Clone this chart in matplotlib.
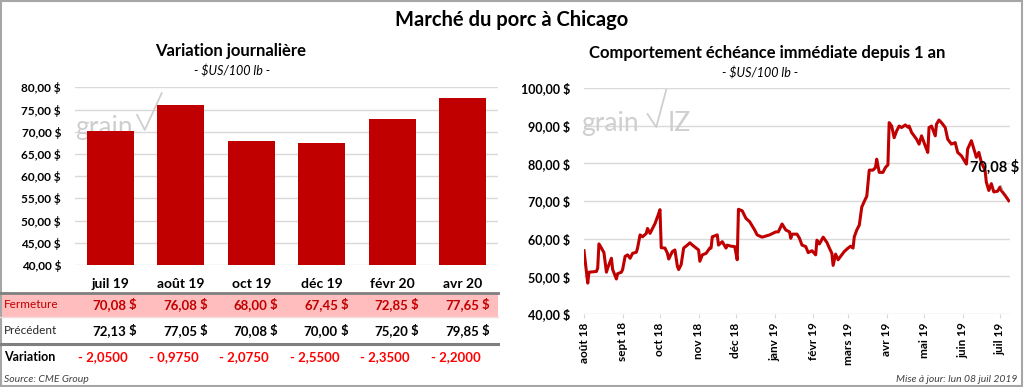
import matplotlib
matplotlib.use("Agg")
import matplotlib.pyplot as plt
import matplotlib.transforms as mtransforms
from matplotlib.patches import Rectangle
from matplotlib.lines import Line2D
import numpy as np
import pandas as pd

plt.rcParams['font.family'] = ['Lato', 'DejaVu Sans']

# ---------------- data ----------------
contracts = ["juil 19", "août 19", "oct 19", "déc 19", "févr 20", "avr 20"]
fermeture = [70.08, 76.08, 68.00, 67.45, 72.85, 77.65]
precedent = [72.13, 77.05, 70.08, 70.00, 75.20, 79.85]
variation = [-2.0500, -0.9750, -2.0750, -2.5500, -2.3500, -2.2000]
bar_yticks = [40, 45, 50, 55, 60, 65, 70, 75, 80]

start_date = "2018-08-01"
day_offsets = [0, 3, 4, 10, 11, 12, 14, 16, 18, 19, 22, 23, 26, 27, 30, 31, 33, 35, 37, 39,
               42, 43, 45, 47, 50, 51, 53, 55, 57, 59, 61, 62, 65, 67, 68, 71, 73, 75, 76, 78,
               80, 83, 85, 87, 90, 92, 93, 95, 98, 101, 102, 103, 107, 108, 111, 114, 115, 118, 121, 123,
               124, 127, 130, 133, 137, 139, 143, 149, 154, 156, 159, 162, 165, 166, 167, 171, 173, 175, 178, 180,
               183, 186, 187, 189, 192, 195, 197, 199, 200, 202, 204, 206, 209, 212, 214, 216, 217, 219, 221, 223,
               226, 227, 229, 232, 234, 235, 237, 240, 242, 244, 245, 247, 249, 251, 253, 255, 258, 260, 261, 263,
               267, 269, 271, 274, 276, 277, 279, 282, 283, 285, 287, 290, 292, 295, 298, 300, 303, 307, 308, 311,
               313, 315, 317, 319, 322, 323, 325, 327, 329, 332, 334, 335, 338, 341]
prices = [56.8, 48.2, 51.1, 51.3, 52.2, 58.6, 57.5, 56.3, 51.1, 52.2, 54.8, 51.8, 49.3, 50.7, 51.1, 51.8, 55.3, 55.7, 54.8, 56.1,
          56.4, 57.5, 61.0, 60.5, 61.4, 62.7, 61.4, 62.7, 64.0, 65.8, 67.7, 57.6, 57.5, 56.1, 54.6, 56.6, 57.0, 52.6, 51.8, 53.1,
          57.5, 58.3, 58.9, 58.3, 57.5, 57.0, 54.0, 55.7, 56.1, 57.5, 57.5, 60.5, 61.0, 58.3, 59.2, 57.5, 58.3, 58.0, 57.9, 54.4,
          67.8, 67.4, 65.4, 64.5, 62.3, 61.0, 60.4, 61.0, 61.8, 61.8, 63.9, 62.3, 61.8, 60.1, 61.2, 61.2, 60.1, 58.3, 57.9, 56.3,
          56.8, 55.7, 59.6, 58.6, 60.4, 59.0, 57.5, 56.1, 52.9, 55.9, 54.4, 55.3, 56.6, 57.5, 58.0, 57.5, 60.5, 62.3, 63.6, 68.4,
          70.6, 71.2, 78.2, 78.2, 78.9, 81.1, 77.6, 77.6, 78.9, 79.6, 90.8, 89.9, 86.8, 88.6, 89.9, 89.5, 90.2, 89.6, 89.9, 88.2,
          86.4, 85.1, 87.3, 84.6, 82.9, 89.5, 89.9, 87.3, 90.4, 91.5, 90.8, 89.5, 86.4, 85.1, 85.5, 82.9, 82.0, 79.8, 83.8, 86.0,
          83.8, 81.6, 82.9, 80.3, 78.1, 75.0, 72.8, 74.6, 72.4, 72.6, 73.7, 72.8, 71.5, 70.08]
line_yticks = [40, 50, 60, 70, 80, 90, 100]
month_labels = ["août 18", "sept 18", "oct 18", "nov 18", "déc 18", "janv 19", "févr 19",
                "mars 19", "avr 19", "mai 19", "juin 19", "juil 19"]
month_starts = ["2018-08-01", "2018-09-01", "2018-10-01", "2018-11-01", "2018-12-01", "2019-01-01",
                "2019-02-01", "2019-03-01", "2019-04-01", "2019-05-01", "2019-06-01", "2019-07-01"]

# ---------------- figure ----------------
W, H = 1024, 387
fig = plt.figure(figsize=(W / 100, H / 100), dpi=100)
fig.patch.set_facecolor("white")

def fx(x):
    return x / W

def fy(y):
    return 1 - y / H

RED = "#C00000"
GRID = "#D9D9D9"
WM = "#CFCFCF"

# outer frame
fig.add_artist(Rectangle((0.001, 0.002), 0.997, 0.995, transform=fig.transFigure,
                         fill=False, edgecolor="#A6A6A6", lw=1.5))

fig.text(fx(512), fy(20), "Marché du porc à Chicago", ha="center", va="center",
         fontsize=14.5, fontweight="bold", color="black")

# ---------------- left bar chart ----------------
axL = fig.add_axes([fx(75), fy(265), fx(498) - fx(75), fy(87.3) - fy(265)])
xpos = np.arange(len(contracts))
axL.set_xlim(-0.5, len(contracts) - 0.5)
axL.set_ylim(40, 80)
axL.set_yticks(bar_yticks)
axL.set_yticklabels([f"{v:.2f} $".replace(".", ",") for v in bar_yticks])
axL.grid(axis="y", color=GRID, lw=1)
axL.set_axisbelow(True)
for s in axL.spines.values():
    s.set_visible(False)
axL.tick_params(axis="y", length=0, pad=10, labelsize=8.5)
for t in axL.get_yticklabels():
    t.set_fontweight("bold")
axL.set_xticks([])
axL.bar(xpos, fermeture, width=0.667, bottom=0, color=RED, zorder=3)

fig.text(fx(231), fy(51), "Variation journalière", ha="center", va="center",
         fontsize=12, fontweight="bold")
fig.text(fx(232), fy(71), "- $US/100 lb -", ha="center", va="center",
         fontsize=9, style="italic")

# left watermark (behind bars)
axL.text(-0.5, 70.9, "grain", fontsize=19, color=WM, zorder=1, va="center", ha="left",
         clip_on=False)
axL.plot([0.38, 0.49, 0.73], [73.8, 70.4, 78.7], color=WM, lw=1.3, zorder=1)

# table
blend = mtransforms.blended_transform_factory(axL.transData, fig.transFigure)
table_right = 498
fig.add_artist(Rectangle((0, fy(317)), fx(table_right), fy(293) - fy(317),
                         transform=fig.transFigure, facecolor="#FFBDBD", edgecolor="none", zorder=0))
fig.add_artist(Line2D([0, fx(table_right)], [fy(293), fy(293)], transform=fig.transFigure,
                      color="#7F7F7F", lw=2))
fig.add_artist(Line2D([0, fx(table_right)], [fy(317), fy(317)], transform=fig.transFigure,
                      color="#F2DCDB", lw=1))
fig.add_artist(Line2D([0, fx(table_right)], [fy(344), fy(344)], transform=fig.transFigure,
                      color="#7F7F7F", lw=2.2))

fig.text(fx(4), fy(305), "Fermeture", color=RED, fontsize=8.5, va="center", ha="left")
fig.text(fx(4), fy(331), "Précédent", color="#262626", fontsize=8.5, va="center", ha="left")
fig.text(fx(4), fy(357), "Variation", color="black", fontsize=9, fontweight="bold",
         va="center", ha="left")
fig.text(fx(4), fy(380), "Source: CME Group", color="#404040", fontsize=7.5, style="italic",
         va="center", ha="left")

for i, name in enumerate(contracts):
    fig.text(i, fy(284), name, transform=blend, ha="center", va="center",
             fontsize=10, fontweight="bold")
    fig.text(i + 0.23, fy(305), f"{fermeture[i]:.2f}".replace(".", ","), transform=blend,
             ha="right", va="center", fontsize=9.5, fontweight="bold", color=RED)
    fig.text(i + 0.37, fy(305), "$", transform=blend, ha="right", va="center",
             fontsize=9.5, fontweight="bold", color=RED)
    fig.text(i + 0.23, fy(331), f"{precedent[i]:.2f}".replace(".", ","), transform=blend,
             ha="right", va="center", fontsize=9.5, fontweight="bold", color="black")
    fig.text(i + 0.37, fy(331), "$", transform=blend, ha="right", va="center",
             fontsize=9.5, fontweight="bold", color="black")
    fig.text(i + 0.25, fy(357), f"- {abs(variation[i]):.4f}".replace(".", ","), transform=blend,
             ha="right", va="center", fontsize=9.5, fontweight="bold", color="#FF0000")

# ---------------- right line chart ----------------
axR = fig.add_axes([fx(584), fy(314), fx(1010) - fx(584), fy(88) - fy(314)])
dates = pd.Timestamp(start_date) + pd.to_timedelta(day_offsets, unit="D")
axR.set_ylim(40, 100)
axR.set_xlim(pd.Timestamp("2018-08-01"), pd.Timestamp("2019-07-09"))
axR.set_yticks(line_yticks)
axR.set_yticklabels([f"{v:.2f} $".replace(".", ",") for v in line_yticks])
axR.grid(axis="y", color=GRID, lw=1)
axR.set_axisbelow(True)
for s in axR.spines.values():
    s.set_visible(False)
axR.tick_params(axis="y", length=0, pad=10, labelsize=9)
for t in axR.get_yticklabels():
    t.set_fontweight("bold")
axR.set_xticks(pd.to_datetime(month_starts))
axR.set_xticklabels(month_labels, rotation=90, fontsize=8.5, fontweight="bold")
axR.tick_params(axis="x", length=3, color=GRID, pad=3)

# right watermark
axR.text(pd.Timestamp("2018-07-30"), 90.7, "grain", fontsize=19, color=WM,
         ha="left", va="center", zorder=1)
wm_dates = pd.to_datetime(["2018-09-21", "2018-09-28", "2018-10-06"])
axR.plot(wm_dates, [93.1, 89.6, 99.5], color=WM, lw=1.3, zorder=1)
axR.text(pd.Timestamp("2018-10-07"), 90.7, "IZ", fontsize=19, color=WM,
         ha="left", va="center", zorder=1)

axR.plot(dates, prices, color=RED, lw=2.2, zorder=3, solid_joinstyle="round")

# last value label with leader
axR.annotate(f"{prices[-1]:.2f} $".replace(".", ","),
             xy=(pd.Timestamp("2019-07-03"), 72.9),
             xytext=(pd.Timestamp("2019-06-27"), 79.0),
             fontsize=10.5, fontweight="bold", color="black", ha="center", va="center",
             arrowprops=dict(arrowstyle="-", color="#A6A6A6", lw=0.8,
                             shrinkA=6, shrinkB=0))

fig.text(fx(767), fy(53), "Comportement échéance immédiate depuis 1 an", ha="center", va="center",
         fontsize=12, fontweight="bold")
fig.text(fx(760), fy(73), "- $US/100 lb -", ha="center", va="center",
         fontsize=9, style="italic")

fig.text(fx(1017), fy(379), "Mise à jour: lun 08 juil 2019", ha="right", va="center",
         fontsize=7.5, style="italic", color="#404040")

fig.savefig("out.png", dpi=100, facecolor="white")
